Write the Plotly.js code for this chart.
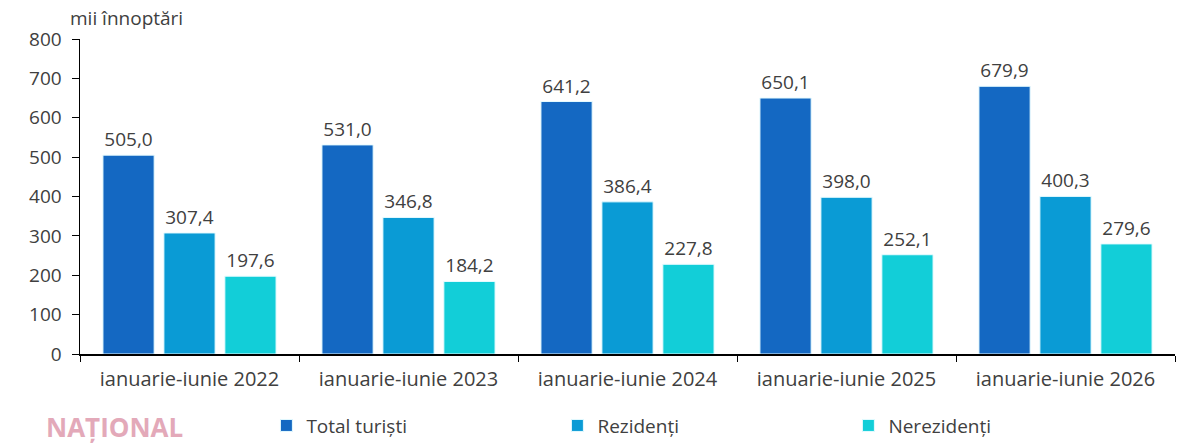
<!DOCTYPE html>
<html>
<head>
<meta charset="utf-8">
<script src="https://cdn.plot.ly/plotly-3.0.1.min.js"></script>
<style>
  html, body { margin: 0; padding: 0; background: #fff; }
  #plot { width: 1200px; height: 448px; }
</style>
</head>
<body>
<div id="plot"></div>
<script>
// categories and series (mii înnoptări)
var periods = ['ianuarie-iunie 2022', 'ianuarie-iunie 2023', 'ianuarie-iunie 2024',
               'ianuarie-iunie 2025', 'ianuarie-iunie 2026'];
var totalTuristi = [505.0, 531.0, 641.2, 650.1, 679.9];
var rezidenti    = [307.4, 346.8, 386.4, 398.0, 400.3];
var nerezidenti  = [197.6, 184.2, 227.8, 252.1, 279.6];

var seriesNames = ['Total turiști', 'Rezidenți', 'Nerezidenți'];
var colors = ['#1468C2', '#0A9BD5', '#12CED8'];
var textColor = '#404040';

function makeBar(vals, idx) {
  return {
    x: periods,
    y: vals,
    name: seriesNames[idx],
    type: 'bar',
    marker: { color: colors[idx], line: { color: '#e6fbff', width: 1 } },
    texttemplate: '%{y:.1f}',
    textposition: 'outside',
    textfont: { size: 19, color: textColor },
    cliponaxis: false,
    hoverinfo: 'x+y+name'
  };
}

var data = [makeBar(totalTuristi, 0), makeBar(rezidenti, 1), makeBar(nerezidenti, 2)];

var layout = {
  width: 1200,
  height: 448,
  margin: { t: 39, r: 25, b: 94, l: 80 },
  paper_bgcolor: '#fff',
  plot_bgcolor: '#fff',
  separators: ',.',
  font: { family: 'Open Sans, sans-serif', size: 18, color: textColor },
  barmode: 'group',
  bargap: 0.165,
  bargroupgap: 0.16,
  showlegend: true,
  legend: {
    orientation: 'h',
    xref: 'container', yref: 'container',
    x: 0.222, xanchor: 'left',
    y: 0.05, yanchor: 'middle',
    entrywidth: 246,
    font: { size: 19, color: textColor },
    itemwidth: 30
  },
  xaxis: {
    type: 'category',
    showline: true,
    linecolor: '#000',
    linewidth: 1.5,
    ticks: 'outside',
    tickson: 'boundaries',
    ticklen: 6,
    tickcolor: '#000',
    ticklabelstandoff: 6,
    tickfont: { size: 20, color: textColor },
    showgrid: false,
    zeroline: false
  },
  yaxis: {
    range: [0, 800],
    dtick: 100,
    showline: true,
    linecolor: '#000',
    linewidth: 1.5,
    ticks: 'outside',
    ticklen: 7,
    tickcolor: '#000',
    ticklabelstandoff: 6,
    tickfont: { size: 19, color: textColor },
    showgrid: false,
    zeroline: false
  },
  annotations: [
    {
      text: 'mii înnoptări',
      xref: 'paper', yref: 'paper',
      x: -0.011, y: 1.067, xanchor: 'left', yanchor: 'middle',
      showarrow: false,
      font: { size: 19, color: textColor }
    },
    {
      text: '<b>NAȚIONAL</b>',
      xref: 'paper', yref: 'paper',
      x: -0.033, y: -0.232, xanchor: 'left', yanchor: 'middle',
      showarrow: false,
      font: { size: 26, color: '#e3a9b9' }
    }
  ]
};

Plotly.newPlot('plot', data, layout, { displayModeBar: false, staticPlot: true });
</script>
</body>
</html>
